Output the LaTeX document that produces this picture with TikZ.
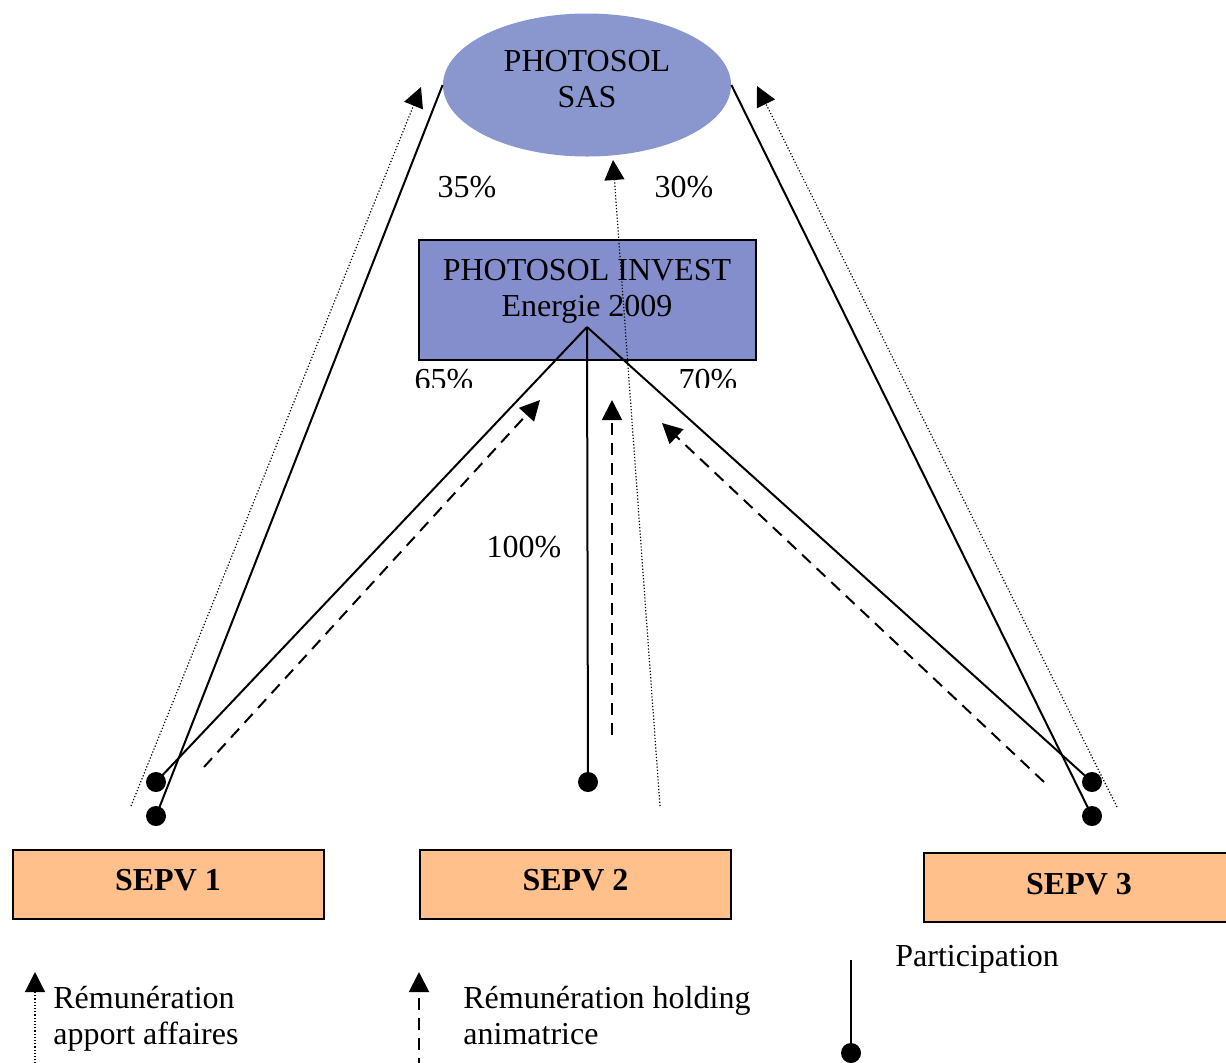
\documentclass[tikz,border=0pt]{standalone}
\usepackage{fontspec}
\setmainfont{Liberation Serif}
\usetikzlibrary{arrows.meta, shapes.geometric}

\definecolor{sasblue}{RGB}{138,150,206}
\definecolor{investblue}{RGB}{132,142,204}
\definecolor{sepvorange}{RGB}{255,192,140}

\begin{document}
\begin{tikzpicture}[x=0.5pt, y=-0.5pt, font=\fontsize{16}{18}\selectfont,
	tip/.style={-{Triangle[width=10pt,length=10pt]}},
	part/.style={line width=1pt},
	apport/.style={tip, line width=0.6pt, dash pattern=on 0.6pt off 1pt},
	holding/.style={tip, line width=1pt, dash pattern=on 6pt off 4pt},
	dot/.style={circle, fill=black, inner sep=0pt, minimum size=10pt},
	sepv/.style={draw, line width=1pt, fill=sepvorange, minimum width=155.5pt, minimum height=34.5pt, text depth=4pt, font=\fontsize{16}{18}\selectfont\bfseries},
	pct/.style={anchor=base, inner sep=0pt}]
	\useasboundingbox (0,0) rectangle (1226,1062);
	% companies
	\node[ellipse, fill=sasblue, minimum width=144pt, minimum height=71.5pt] (sas) at (587,85) {};
	\node[align=center] (sastxt) at (587,79) {PHOTOSOL\\SAS};
	\node[draw, line width=1pt, fill=investblue, minimum width=168.5pt, minimum height=60pt] (invest) at (587.5,300) {};
	\node[align=center] (investtxt) at (587,291) {PHOTOSOL INVEST\\Energie 2009};
	\coordinate (apex) at (587,327);
	\node[sepv] (sepv1) at (168,884) {SEPV 1};
	\node[sepv] (sepv2) at (575.5,884) {SEPV 2};
	\node[sepv] (sepv3) at (1079,887.5) {SEPV 3};
	% participation dots
	\node[dot] (d1a) at (156,782) {};
	\node[dot] (d1b) at (156,816) {};
	\node[dot] (d2) at (588,782) {};
	\node[dot] (d3a) at (1092,782) {};
	\node[dot] (d3b) at (1092,816) {};
	\draw[part] (apex) -- (d1a.center);
	\draw[part] (apex) -- (d2.center);
	\draw[part] (apex) -- (d3a.center);
	\draw[part] (sas.west) -- (d1b.center);
	\draw[part] (sas.east) -- (d3b.center);
	% remuneration arrows
	\coordinate (a1s) at (131,806);  \coordinate (a1e) at (421,87);
	\coordinate (a2s) at (660,806);  \coordinate (a2e) at (613,160);
	\coordinate (a3s) at (1117,807); \coordinate (a3e) at (757,86);
	\draw[apport] (a1s) -- (a1e);
	\draw[apport] (a2s) -- (a2e);
	\draw[apport] (a3s) -- (a3e);
	\coordinate (h1s) at (204,767);  \coordinate (h1e) at (540,400);
	\coordinate (h2s) at (612,735);  \coordinate (h2e) at (612,400);
	\coordinate (h3s) at (1044,782); \coordinate (h3e) at (662,423);
	\draw[holding] (h1s) -- (h1e);
	\draw[holding] (h2s) -- (h2e);
	\draw[holding] (h3s) -- (h3e);
	% percentages
	\node[pct] (p35) at (467,197) {35\%};
	\node[pct] (p30) at (684,197) {30\%};
	\node[pct] (p100) at (524,557) {100\%};
	\begin{scope}
		\clip (380,360) rectangle (800,387);
		\node[pct] (p65) at (444,390) {65\%};
		\node[pct] (p70) at (708,390) {70\%};
	\end{scope}
	% legend
	\coordinate (l1s) at (35,1070);  \coordinate (l1e) at (35,972);
	\coordinate (l2s) at (419,1070); \coordinate (l2e) at (419,972);
	\draw[apport] (l1s) -- (l1e);
	\draw[holding] (l2s) -- (l2e);
	\node[dot] (ld) at (851,1053) {};
	\coordinate (lt) at (851,960);
	\draw[part] (lt) -- (ld.center);
	\node[anchor=base west, align=left, inner sep=0pt] (lg1) at (53,1044) {Rémunération\\apport affaires};
	\node[anchor=base west, align=left, inner sep=0pt] (lg2) at (463,1044) {Rémunération holding\\animatrice};
	\node[anchor=base west, inner sep=0pt] (lg3) at (895,966) {Participation};
\end{tikzpicture}
\end{document}
